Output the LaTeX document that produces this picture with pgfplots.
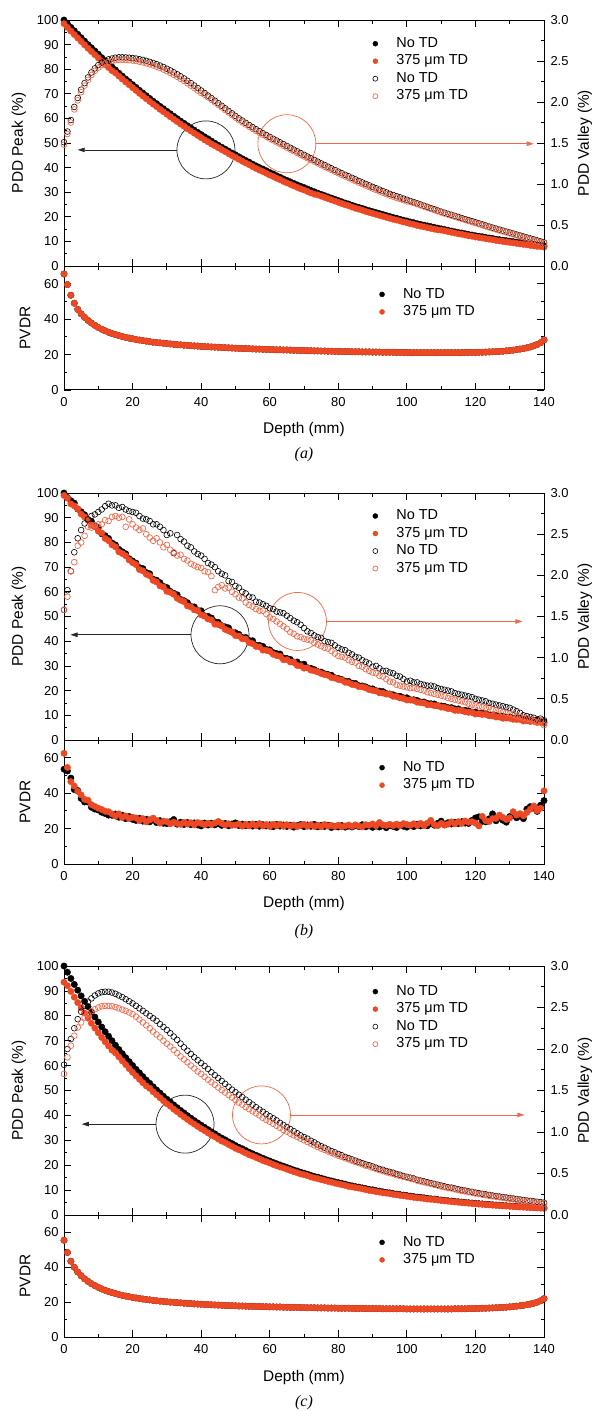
\documentclass[border=0pt]{standalone}
\usepackage{fontspec}
\setmainfont{Liberation Sans}
\newfontfamily\capfont{Liberation Serif}
\usepackage{pgfplots}
\pgfplotsset{compat=1.18}
\usepackage{pgfplotstable}
\usetikzlibrary{arrows.meta}

\definecolor{tdred}{RGB}{236,72,36}
\definecolor{tdring}{RGB}{240,105,75}

% depth (mm), peak PDD (no TD / TD), valley PDD (no TD / TD), PVDR
\pgfplotstableread{
x pN pT vN vT r
0 100.0 98.5 1.51 1.48 65.5
1 98.5 97.0 1.64 1.61 59.5
2 97.0 95.5 1.78 1.75 53.5
3 95.6 94.1 1.94 1.91 49.0
4 94.2 92.7 2.05 2.02 45.5
5 92.8 91.3 2.15 2.12 43.0
6 91.4 89.9 2.23 2.20 41.0
7 90.0 88.5 2.30 2.27 39.3
8 88.7 87.2 2.36 2.33 37.8
9 87.4 85.9 2.41 2.38 36.5
10 86.1 84.6 2.45 2.42 35.3
11 84.7 83.2 2.48 2.45 34.3
12 83.4 81.9 2.50 2.47 33.4
13 82.2 80.7 2.52 2.49 32.6
14 80.9 79.4 2.53 2.50 31.9
15 79.7 78.5 2.54 2.51 31.3
16 78.4 77.2 2.545 2.515 30.7
17 77.2 76.0 2.545 2.515 30.2
18 76.0 74.8 2.543 2.513 29.7
19 74.9 73.7 2.540 2.510 29.3
20 73.7 72.5 2.536 2.506 28.9
21 72.6 71.4 2.530 2.500 28.5
22 71.4 70.2 2.522 2.492 28.2
23 70.3 69.1 2.513 2.483 27.9
24 69.2 68.0 2.502 2.472 27.6
25 68.1 66.9 2.490 2.460 27.3
26 67.0 65.8 2.476 2.446 27.0
27 66.0 64.8 2.461 2.431 26.8
28 64.9 63.7 2.444 2.414 26.6
29 63.9 62.7 2.426 2.396 26.4
30 62.9 61.7 2.406 2.376 26.2
31 61.9 60.7 2.385 2.355 26.0
32 60.9 59.7 2.362 2.332 25.8
33 59.9 58.7 2.338 2.308 25.6
34 58.9 57.7 2.313 2.283 25.5
35 58.0 56.8 2.287 2.257 25.3
36 57.0 55.8 2.259 2.229 25.2
37 56.1 54.9 2.230 2.200 25.0
38 55.2 54.0 2.200 2.170 24.9
39 54.3 53.1 2.170 2.140 24.8
40 53.4 52.2 2.140 2.110 24.6
41 52.5 51.3 2.109 2.089 24.5
42 51.7 50.5 2.078 2.058 24.4
43 50.8 49.6 2.047 2.027 24.3
44 49.9 48.9 2.016 1.996 24.2
45 49.1 48.1 1.985 1.965 24.1
46 48.3 47.3 1.954 1.934 24.0
47 47.5 46.5 1.923 1.903 23.9
48 46.7 45.7 1.892 1.872 23.8
49 45.9 44.9 1.861 1.841 23.7
50 45.2 44.2 1.830 1.810 23.6
51 44.4 43.4 1.801 1.781 23.5
52 43.6 42.6 1.773 1.753 23.4
53 42.9 41.9 1.746 1.726 23.4
54 42.2 41.2 1.719 1.699 23.3
55 41.4 40.4 1.693 1.673 23.2
56 40.7 39.7 1.668 1.648 23.1
57 40.0 39.0 1.644 1.624 23.1
58 39.4 38.4 1.620 1.600 23.0
59 38.7 37.7 1.597 1.577 22.9
60 38.0 37.0 1.574 1.554 22.9
61 37.4 36.4 1.552 1.532 22.8
62 36.7 35.7 1.530 1.510 22.7
63 36.1 35.1 1.508 1.488 22.7
64 35.4 34.4 1.486 1.466 22.6
65 34.8 33.8 1.464 1.444 22.6
66 34.2 33.2 1.442 1.422 22.5
67 33.6 32.6 1.420 1.400 22.4
68 33.0 32.0 1.398 1.378 22.4
69 32.4 31.4 1.377 1.357 22.3
70 31.9 30.9 1.356 1.336 22.3
71 31.3 30.3 1.335 1.315 22.2
72 30.7 29.7 1.314 1.294 22.2
73 30.2 29.2 1.293 1.273 22.1
74 29.6 28.9 1.272 1.252 22.1
75 29.1 28.4 1.251 1.231 22.0
76 28.6 27.9 1.231 1.211 22.0
77 28.1 27.4 1.211 1.191 21.9
78 27.6 26.9 1.191 1.171 21.9
79 27.1 26.4 1.171 1.151 21.8
80 26.6 25.9 1.151 1.131 21.8
81 26.1 25.4 1.132 1.112 21.7
82 25.6 24.9 1.113 1.093 21.7
83 25.2 24.5 1.094 1.074 21.7
84 24.7 24.0 1.075 1.055 21.6
85 24.2 23.5 1.056 1.036 21.6
86 23.8 23.1 1.037 1.017 21.6
87 23.4 22.7 1.019 0.999 21.5
88 22.9 22.2 1.001 0.981 21.5
89 22.5 21.8 0.983 0.963 21.5
90 22.1 21.4 0.965 0.945 21.4
91 21.7 21.0 0.948 0.928 21.4
92 21.3 20.6 0.931 0.911 21.4
93 20.9 20.2 0.914 0.894 21.3
94 20.5 19.8 0.897 0.877 21.3
95 20.1 19.4 0.880 0.860 21.3
96 19.7 19.0 0.866 0.846 21.3
97 19.4 18.7 0.851 0.831 21.2
98 19.0 18.3 0.837 0.817 21.2
99 18.6 17.9 0.822 0.802 21.2
100 18.3 17.6 0.808 0.788 21.2
101 17.9 17.2 0.793 0.783 21.1
102 17.6 16.9 0.779 0.769 21.1
103 17.2 16.5 0.764 0.754 21.1
104 16.9 16.2 0.750 0.740 21.1
105 16.6 15.9 0.735 0.725 21.1
106 16.3 15.6 0.721 0.711 21.1
107 16.0 15.3 0.706 0.696 21.1
108 15.7 15.0 0.692 0.682 21.1
109 15.4 14.7 0.677 0.667 21.1
110 15.1 14.6 0.663 0.653 21.1
111 14.8 14.3 0.650 0.640 21.1
112 14.5 14.0 0.637 0.627 21.1
113 14.2 13.7 0.624 0.614 21.1
114 13.9 13.4 0.611 0.601 21.1
115 13.6 13.1 0.598 0.588 21.1
116 13.4 12.9 0.585 0.575 21.1
117 13.1 12.6 0.572 0.562 21.2
118 12.8 12.3 0.559 0.549 21.2
119 12.6 12.1 0.546 0.536 21.2
120 12.3 11.8 0.533 0.523 21.2
121 12.1 11.6 0.520 0.510 21.3
122 11.9 11.4 0.507 0.497 21.3
123 11.6 11.1 0.494 0.484 21.4
124 11.4 10.9 0.481 0.471 21.5
125 11.2 10.7 0.468 0.458 21.6
126 10.9 10.4 0.456 0.446 21.7
127 10.7 10.2 0.444 0.434 21.8
128 10.5 10.0 0.432 0.422 21.9
129 10.3 9.8 0.420 0.410 22.1
130 10.1 9.6 0.408 0.398 22.3
131 9.9 9.4 0.396 0.386 22.5
132 9.7 9.2 0.384 0.374 22.8
133 9.5 9.0 0.372 0.362 23.1
134 9.3 8.8 0.360 0.350 23.4
135 9.1 8.6 0.348 0.338 23.8
136 8.9 8.4 0.336 0.326 24.3
137 8.7 8.2 0.324 0.314 24.9
138 8.5 8.0 0.312 0.302 25.7
139 8.4 7.9 0.300 0.290 26.7
140 8.2 7.7 0.288 0.278 28.3
}\tabA

\pgfplotstableread{
x pN pT vN vT rN rT
0 100.0 99.0 1.58 1.58 53.5 62.5
1 98.2 97.9 1.82 1.74 52.5 54.5
2 96.9 95.6 2.05 2.05 48.5 46.5
3 95.9 94.8 2.28 2.16 42.0 44.0
4 93.5 93.6 2.45 2.36 41.5 41.0
5 92.4 91.5 2.55 2.40 37.0 39.0
6 91.2 90.3 2.63 2.48 35.0 36.5
7 89.2 89.1 2.68 2.59 35.0 36.0
8 88.5 87.0 2.72 2.58 32.0 33.5
9 86.7 86.3 2.74 2.61 31.0 32.5
10 86.0 84.6 2.77 2.62 30.5 31.5
11 83.5 83.8 2.80 2.62 29.2 30.8
12 82.7 81.6 2.84 2.67 28.5 29.8
13 81.6 80.7 2.87 2.66 27.6 29.5
14 79.8 79.0 2.85 2.71 27.5 28.3
15 79.0 78.2 2.85 2.72 28.2 27.0
16 77.2 76.2 2.82 2.70 26.4 28.3
17 76.2 75.5 2.83 2.71 27.5 26.2
18 75.4 74.6 2.80 2.59 25.6 27.1
19 73.4 72.9 2.78 2.68 26.8 25.7
20 72.5 71.8 2.77 2.62 25.2 26.4
21 71.6 71.0 2.76 2.58 24.6 26.0
22 69.8 69.0 2.72 2.55 25.8 24.5
23 69.4 68.5 2.69 2.57 24.2 25.6
24 67.8 67.1 2.68 2.50 25.3 23.8
25 67.3 66.5 2.66 2.46 23.8 24.9
26 65.1 64.6 2.62 2.42 24.9 25.9
27 64.7 64.0 2.62 2.45 23.4 24.6
28 63.7 62.4 2.59 2.40 24.5 23.1
29 62.2 61.9 2.55 2.34 23.0 24.2
30 61.7 60.2 2.49 2.37 22.8 23.9
31 60.2 59.8 2.51 2.31 23.9 22.7
32 59.4 59.0 2.27 2.28 25.1 23.6
33 58.8 57.4 2.49 2.24 22.5 23.0
34 56.9 56.6 2.44 2.25 23.6 22.4
35 56.4 56.0 2.41 2.20 22.3 23.5
36 55.6 54.3 2.36 2.18 23.4 22.6
37 54.1 53.9 2.34 2.14 22.2 23.3
38 53.9 52.7 2.29 2.12 23.2 22.1
39 52.5 52.4 2.26 2.10 22.0 23.4
40 52.3 50.7 2.24 2.09 21.5 22.9
41 50.3 50.2 2.20 2.05 23.1 22.2
42 50.1 49.0 2.15 2.04 22.0 23.0
43 49.4 48.6 2.13 1.99 23.0 22.4
44 47.9 46.9 2.10 1.82 22.1 23.1
45 47.6 46.7 2.05 1.86 22.8 24.0
46 46.3 46.2 2.02 1.88 21.8 22.9
47 45.8 44.8 2.00 1.84 22.9 22.0
48 45.4 44.2 1.93 1.85 21.6 22.7
49 43.7 43.7 1.92 1.80 22.6 21.9
50 43.4 42.3 1.87 1.77 23.2 22.0
51 42.8 42.1 1.85 1.73 21.7 22.6
52 41.5 41.0 1.80 1.72 22.5 21.4
53 41.5 40.9 1.78 1.67 21.6 22.4
54 40.3 39.4 1.74 1.64 22.3 21.5
55 40.2 39.0 1.73 1.62 21.4 22.6
56 38.4 37.9 1.68 1.59 22.4 21.6
57 38.3 37.7 1.67 1.57 21.3 22.8
58 37.9 36.4 1.65 1.57 22.2 21.5
59 36.7 36.3 1.63 1.53 21.5 22.3
60 36.5 35.9 1.60 1.49 22.1 21.2
61 35.4 34.7 1.59 1.47 21.0 22.4
62 35.0 34.2 1.56 1.44 22.3 21.6
63 34.8 33.9 1.55 1.41 21.4 22.5
64 33.2 32.5 1.54 1.38 22.0 21.3
65 33.0 32.5 1.51 1.35 21.2 22.2
66 32.6 31.6 1.48 1.31 21.9 21.4
67 31.5 31.6 1.45 1.29 20.8 22.0
68 31.6 30.2 1.43 1.26 21.6 21.1
69 30.5 30.0 1.40 1.25 22.3 21.8
70 30.7 29.1 1.36 1.23 21.1 22.4
71 29.3 29.2 1.32 1.22 22.0 21.3
72 29.0 28.3 1.30 1.21 21.3 22.2
73 28.5 28.0 1.27 1.18 22.4 21.2
74 27.7 27.6 1.25 1.16 21.0 21.9
75 27.5 26.9 1.24 1.14 21.8 21.1
76 26.8 26.5 1.20 1.12 21.2 22.3
77 26.5 26.2 1.19 1.11 21.9 21.4
78 26.2 25.3 1.18 1.08 20.6 21.8
79 25.2 25.1 1.15 1.05 21.3 21.2
80 24.9 24.5 1.12 1.02 20.9 21.9
81 24.5 24.3 1.10 1.01 21.7 21.0
82 23.8 23.4 1.09 1.00 20.8 21.5
83 23.7 23.2 1.06 0.97 21.4 22.0
84 23.0 22.5 1.04 0.95 20.9 21.3
85 22.9 22.3 1.01 0.94 21.6 22.1
86 22.0 21.6 1.00 0.90 21.1 21.4
87 21.9 21.5 0.97 0.89 22.2 21.0
88 21.5 21.1 0.95 0.86 21.0 22.2
89 20.8 20.4 0.93 0.84 21.5 21.9
90 20.7 20.1 0.89 0.82 20.7 22.6
91 20.0 19.9 0.90 0.81 21.4 21.6
92 19.8 19.1 0.87 0.78 20.9 23.4
93 19.6 19.0 0.84 0.77 21.6 22.1
94 18.8 18.6 0.84 0.74 20.5 21.8
95 18.6 18.5 0.82 0.71 21.7 22.4
96 18.3 17.7 0.81 0.70 21.2 21.7
97 17.8 17.6 0.78 0.67 20.6 22.5
98 17.7 17.0 0.77 0.66 21.9 21.6
99 17.1 16.8 0.74 0.65 21.3 22.8
100 17.1 16.2 0.71 0.64 20.8 22.3
101 16.3 16.2 0.72 0.63 21.8 21.9
102 16.3 16.0 0.70 0.63 21.1 22.7
103 16.0 15.3 0.70 0.62 22.4 21.8
104 15.4 15.1 0.68 0.61 21.5 22.9
105 15.4 15.0 0.67 0.60 22.0 21.7
106 14.8 14.3 0.66 0.58 21.6 23.1
107 14.7 14.3 0.66 0.57 22.8 24.6
108 14.6 13.9 0.65 0.56 21.9 22.3
109 13.9 14.0 0.63 0.55 23.0 21.6
110 13.8 13.3 0.62 0.54 24.2 22.9
111 13.6 13.2 0.61 0.53 22.1 22.0
112 13.1 12.7 0.60 0.51 23.3 22.5
113 13.1 12.6 0.59 0.50 22.6 23.8
114 12.6 12.0 0.57 0.49 23.5 22.7
115 12.6 12.0 0.56 0.48 22.8 23.9
116 12.0 12.0 0.55 0.47 23.9 22.9
117 12.0 11.4 0.54 0.46 23.1 24.3
118 11.8 11.2 0.53 0.44 22.9 23.6
119 11.3 11.2 0.52 0.43 24.6 23.9
120 11.3 10.5 0.50 0.42 26.0 23.1
121 10.8 10.6 0.49 0.41 26.6 21.5
122 10.8 10.3 0.48 0.40 24.1 26.9
123 10.8 10.4 0.47 0.39 23.8 24.5
124 10.1 9.8 0.45 0.40 25.5 24.0
125 10.1 9.8 0.44 0.37 28.3 25.6
126 9.9 9.3 0.43 0.36 24.4 25.8
127 9.5 9.3 0.42 0.36 25.9 27.6
128 9.6 8.8 0.41 0.34 24.7 26.3
129 9.2 8.9 0.40 0.33 23.6 25.1
130 9.3 8.8 0.39 0.32 26.8 26.0
131 8.7 8.4 0.37 0.31 27.4 29.5
132 8.8 8.3 0.35 0.29 26.1 27.6
133 8.7 8.3 0.33 0.28 27.0 28.4
134 8.2 7.7 0.30 0.27 25.6 27.2
135 8.3 7.8 0.29 0.26 31.0 29.1
136 7.8 7.5 0.28 0.25 32.4 30.9
137 7.8 7.6 0.27 0.23 31.6 32.8
138 7.9 7.1 0.25 0.22 29.7 30.1
139 7.3 7.2 0.26 0.24 33.2 31.5
140 7.3 6.8 0.24 0.18 35.8 41.3
}\tabB

\pgfplotstableread{
x pN pT vN vT r
0 100.0 93.5 1.81 1.70 55.5
1 97.5 92.1 2.00 1.90 48.5
2 95.0 89.8 2.12 2.04 43.5
3 92.6 87.5 2.25 2.16 40.0
4 90.3 85.3 2.36 2.26 37.3
5 88.0 83.2 2.45 2.32 35.2
6 85.8 81.1 2.52 2.38 33.4
7 83.7 79.1 2.57 2.42 31.9
8 81.5 77.0 2.61 2.455 30.6
9 79.5 75.1 2.645 2.48 29.5
10 77.5 73.2 2.67 2.50 28.5
11 75.5 71.3 2.685 2.515 27.6
12 73.6 69.6 2.69 2.52 26.8
13 71.8 67.9 2.69 2.52 26.1
14 70.0 66.2 2.68 2.515 25.5
15 68.2 65.1 2.665 2.505 24.9
16 66.5 63.5 2.645 2.49 24.4
17 64.8 61.9 2.625 2.475 23.9
18 63.2 60.4 2.60 2.46 23.5
19 61.6 58.8 2.575 2.44 23.1
20 60.05 57.3 2.55 2.42 22.7
21 58.5 55.9 2.52 2.39 22.4
22 57.1 54.5 2.49 2.355 22.1
23 55.6 53.1 2.46 2.32 21.8
24 54.2 51.8 2.43 2.285 21.5
25 52.9 50.9 2.40 2.25 21.3
26 51.5 49.5 2.37 2.21 21.0
27 50.2 48.3 2.34 2.175 20.8
28 49.0 47.1 2.30 2.14 20.6
29 47.7 45.9 2.265 2.10 20.4
30 46.5 44.7 2.23 2.065 20.2
31 45.4 43.7 2.19 2.03 20.0
32 44.2 42.5 2.15 1.99 19.9
33 43.1 41.5 2.11 1.95 19.7
34 42.0 40.4 2.065 1.91 19.6
35 41.0 39.4 2.02 1.875 19.4
36 39.9 38.4 1.98 1.84 19.3
37 38.9 37.4 1.94 1.80 19.2
38 37.9 36.5 1.90 1.765 19.0
39 37.0 35.6 1.865 1.73 18.9
40 36.1 34.7 1.83 1.70 18.8
41 35.2 33.9 1.795 1.665 18.7
42 34.3 33.0 1.76 1.63 18.6
43 33.4 32.1 1.72 1.60 18.5
44 32.6 31.4 1.685 1.57 18.4
45 31.7 30.5 1.65 1.535 18.3
46 30.9 29.7 1.615 1.505 18.2
47 30.2 29.1 1.58 1.475 18.1
48 29.4 28.3 1.545 1.445 18.0
49 28.7 27.6 1.51 1.415 18.0
50 27.9 26.8 1.48 1.385 17.9
51 27.2 26.2 1.45 1.355 17.8
52 26.6 25.6 1.42 1.33 17.8
53 25.9 24.9 1.39 1.30 17.7
54 25.2 24.2 1.36 1.275 17.6
55 24.6 23.7 1.33 1.25 17.6
56 24.0 23.1 1.30 1.225 17.5
57 23.4 22.5 1.27 1.20 17.5
58 22.8 21.9 1.245 1.17 17.4
59 22.2 21.4 1.215 1.145 17.4
60 21.7 20.9 1.19 1.125 17.3
61 21.1 20.3 1.165 1.10 17.3
62 20.6 19.8 1.14 1.075 17.2
63 20.1 19.3 1.11 1.05 17.2
64 19.6 18.9 1.085 1.025 17.1
65 19.1 18.4 1.06 1.005 17.1
66 18.6 17.9 1.035 0.98 17.0
67 18.1 17.4 1.01 0.96 17.0
68 17.7 17.0 0.985 0.94 17.0
69 17.2 16.5 0.96 0.92 16.9
70 16.8 16.2 0.94 0.90 16.9
71 16.4 15.8 0.92 0.88 16.8
72 15.9 15.3 0.895 0.86 16.8
73 15.5 14.9 0.875 0.84 16.8
74 15.2 14.6 0.85 0.82 16.7
75 14.8 14.2 0.83 0.80 16.7
76 14.4 13.9 0.81 0.785 16.7
77 14.0 13.5 0.79 0.765 16.6
78 13.7 13.2 0.77 0.75 16.6
79 13.3 12.8 0.755 0.73 16.6
80 13.0 12.5 0.735 0.715 16.5
81 12.7 12.2 0.72 0.70 16.5
82 12.4 11.9 0.70 0.685 16.5
83 12.0 11.5 0.685 0.67 16.5
84 11.7 11.3 0.67 0.655 16.4
85 11.4 11.0 0.655 0.64 16.4
86 11.2 10.8 0.64 0.625 16.4
87 10.9 10.5 0.625 0.61 16.4
88 10.6 10.2 0.61 0.595 16.3
89 10.3 9.9 0.60 0.585 16.3
90 10.1 9.7 0.585 0.57 16.3
91 9.8 9.4 0.57 0.555 16.3
92 9.6 9.2 0.555 0.54 16.3
93 9.3 8.9 0.545 0.53 16.2
94 9.1 8.8 0.53 0.515 16.2
95 8.9 8.6 0.52 0.505 16.2
96 8.6 8.3 0.51 0.495 16.2
97 8.4 8.1 0.495 0.48 16.2
98 8.2 7.9 0.485 0.47 16.2
99 8.0 7.7 0.47 0.46 16.2
100 7.8 7.5 0.46 0.45 16.1
101 7.6 7.3 0.45 0.44 16.1
102 7.4 7.1 0.44 0.43 16.1
103 7.2 6.9 0.425 0.415 16.1
104 7.1 6.8 0.415 0.405 16.1
105 6.9 6.6 0.405 0.395 16.1
106 6.7 6.4 0.395 0.385 16.1
107 6.5 6.3 0.385 0.375 16.1
108 6.4 6.2 0.375 0.365 16.1
109 6.2 6.0 0.365 0.355 16.1
110 6.05 5.82 0.355 0.345 16.1
111 5.90 5.68 0.345 0.335 16.1
112 5.75 5.53 0.335 0.325 16.1
113 5.60 5.39 0.33 0.32 16.1
114 5.46 5.25 0.32 0.31 16.2
115 5.33 5.13 0.31 0.30 16.2
116 5.19 4.99 0.30 0.29 16.2
117 5.06 4.87 0.295 0.285 16.2
118 4.93 4.74 0.285 0.275 16.3
119 4.81 4.63 0.28 0.27 16.3
120 4.69 4.51 0.27 0.26 16.4
121 4.57 4.40 0.263 0.253 16.4
122 4.46 4.29 0.256 0.246 16.5
123 4.34 4.18 0.249 0.239 16.5
124 4.24 4.08 0.242 0.232 16.6
125 4.13 3.97 0.235 0.225 16.7
126 4.02 3.87 0.229 0.219 16.8
127 3.92 3.77 0.223 0.213 16.9
128 3.82 3.67 0.217 0.207 17.0
129 3.73 3.59 0.211 0.201 17.1
130 3.63 3.49 0.205 0.195 17.3
131 3.54 3.41 0.199 0.189 17.5
132 3.45 3.32 0.193 0.183 17.7
133 3.36 3.23 0.187 0.177 17.9
134 3.28 3.16 0.181 0.171 18.2
135 3.20 3.08 0.175 0.165 18.5
136 3.12 3.00 0.170 0.160 18.9
137 3.04 2.92 0.165 0.155 19.4
138 2.96 2.85 0.160 0.150 20.0
139 2.89 2.78 0.155 0.145 20.8
140 2.82 2.71 0.150 0.140 22.0
}\tabC

\tikzset{
  callout/.style={line width=0.7bp},
  tip/.style={-{Triangle[length=7bp,width=4.5bp]}},
}

\newcommand\labelfont{\fontsize{15.5}{18}\selectfont}

\pgfplotsset{
  frame/.style={
    scale only axis, width=480bp, xmin=0, xmax=140,
    xtick={0,20,...,140}, minor x tick num=1,
    tick align=inside, major tick length=7bp, minor tick length=3.5bp,
    axis line style={line width=1bp},
    every tick/.style={black, line width=0.8bp},
    tick label style={font=\fontsize{13}{15}\selectfont},
    /pgf/number format/assume math mode=true,
    legend cell align=left,
    legend image code/.code={\draw[#1, mark size=2.5bp] plot coordinates {(0bp,0bp)};},
    legend style={draw=none, fill=none, inner sep=0pt, anchor=north west,
      font=\fontsize{14.5}{17}\selectfont, row sep=1bp,
      nodes={inner sep=1.5bp, text height=10.5bp, text depth=3bp},
      /tikz/every odd column/.append style={column sep=17bp}},
  },
  peakaxis/.style={frame,
    ymin=0, ymax=100, ytick={0,10,...,100}, minor y tick num=1,
    ytick pos=left, xticklabels={},
    yticklabel style={xshift=-2bp},
    ylabel={PDD Peak (\%)},
    every axis y label/.style={at={(axis description cs:-0.094,0.5)}, rotate=90, anchor=center, font=\labelfont},
  },
  valleyaxis/.style={frame,
    ymin=0, ymax=3, ytick={0,0.5,...,3}, minor y tick num=1,
    axis x line=none, axis y line*=right,
    yticklabel style={xshift=3bp, /pgf/number format/.cd, fixed, fixed zerofill, precision=1},
    ylabel={PDD Valley (\%)},
    every axis y label/.style={at={(axis description cs:1.085,0.5)}, rotate=90, anchor=center, font=\labelfont},
  },
  pvdraxis/.style={frame,
    ymin=0, ymax=70, ytick={0,20,40,60}, minor y tick num=1,
    yticklabel style={xshift=-2bp}, xticklabel style={yshift=-4bp},
    ylabel={PVDR}, xlabel={Depth (mm)},
    every axis y label/.style={at={(axis description cs:-0.081,0.5)}, rotate=90, anchor=center, font=\labelfont},
    every axis x label/.style={at={(axis description cs:0.5,0)}, anchor=center, yshift=-40bp, font=\labelfont},
  },
  peakN/.style={only marks, mark=*, mark size=3.2bp, black},
  peakT/.style={only marks, mark=*, mark size=3.2bp, tdred},
  valN/.style={only marks, mark=o, mark size=2.9bp, black, mark options={line width=0.6bp}},
  valT/.style={only marks, mark=o, mark size=2.9bp, tdring, mark options={line width=0.7bp}},
}

\begin{document}
\begin{tikzpicture}
\path[use as bounding box] (0bp,0bp) rectangle (594bp,-1411bp);

% ---------------- (a) ----------------
\begin{axis}[peakaxis, at={(64bp,-266bp)}, anchor=south west, height=246bp]
  \addplot[peakN] table[x=x, y=pN] {\tabA};
  \addplot[peakT] table[x=x, y=pT] {\tabA};
  \draw[callout, black!85] (axis cs:41.4,47.2) circle[radius=29bp];
  \draw[callout, black!85, tip] ([xshift=-29bp]axis cs:41.4,47.2) -- (axis cs:4,47.2);
  \draw[callout, tdring] (axis cs:65,49.7) circle[radius=29bp];
  \draw[callout, tdring, tip] ([xshift=29bp]axis cs:65,49.7) -- (axis cs:137,49.7);
\end{axis}
\begin{axis}[valleyaxis, at={(64bp,-266bp)}, anchor=south west, height=246bp,
    legend style={at={(0.643,0.938)}}]
  \addlegendimage{peakN}\addlegendentry{No TD}
  \addlegendimage{peakT}\addlegendentry{375 μm TD}
  \addplot[valN] table[x=x, y=vN] {\tabA}; \addlegendentry{No TD}
  \addplot[valT] table[x=x, y=vT] {\tabA}; \addlegendentry{375 μm TD}
\end{axis}
\begin{axis}[pvdraxis, at={(64bp,-266bp)}, anchor=north west, height=124bp,
    legend style={at={(0.657,0.839)}}]
  \addplot[peakN] table[x=x, y=r] {\tabA}; \addlegendentry{No TD}
  \addplot[peakT] table[x=x, y=r] {\tabA}; \addlegendentry{375 μm TD}
\end{axis}
\node[font=\capfont\itshape\fontsize{16}{18}\selectfont] at (304bp,-455bp) {(a)};

% ---------------- (b) ----------------
\begin{axis}[peakaxis, at={(64bp,-740bp)}, anchor=south west, height=247bp]
  \addplot[peakN] table[x=x, y=pN] {\tabB};
  \addplot[peakT] table[x=x, y=pT] {\tabB};
  \draw[callout, black!85] (axis cs:45.5,42.6) circle[radius=29bp];
  \draw[callout, black!85, tip] ([xshift=-29bp]axis cs:45.5,42.6) -- (axis cs:1.9,42.6);
  \draw[callout, tdring] (axis cs:68.1,48.0) circle[radius=29bp];
  \draw[callout, tdring, tip] ([xshift=29bp]axis cs:68.1,48.0) -- (axis cs:133.7,48.0);
\end{axis}
\begin{axis}[valleyaxis, at={(64bp,-740bp)}, anchor=south west, height=247bp,
    legend style={at={(0.643,0.941)}}]
  \addlegendimage{peakN}\addlegendentry{No TD}
  \addlegendimage{peakT}\addlegendentry{375 μm TD}
  \addplot[valN] table[x=x, y=vN] {\tabB}; \addlegendentry{No TD}
  \addplot[valT] table[x=x, y=vT] {\tabB}; \addlegendentry{375 μm TD}
\end{axis}
\begin{axis}[pvdraxis, at={(64bp,-740bp)}, anchor=north west, height=124bp,
    legend style={at={(0.657,0.845)}}]
  \addplot[peakN] table[x=x, y=rN] {\tabB}; \addlegendentry{No TD}
  \addplot[peakT] table[x=x, y=rT] {\tabB}; \addlegendentry{375 μm TD}
\end{axis}
\node[font=\capfont\itshape\fontsize{16}{18}\selectfont] at (304bp,-932bp) {(b)};

% ---------------- (c) ----------------
\begin{axis}[peakaxis, at={(64bp,-1215bp)}, anchor=south west, height=249bp]
  \addplot[peakN] table[x=x, y=pN] {\tabC};
  \addplot[peakT] table[x=x, y=pT] {\tabC};
  \draw[callout, black!85] (axis cs:35.3,36.5) circle[radius=29bp];
  \draw[callout, black!85, tip] ([xshift=-29bp]axis cs:35.3,36.5) -- (axis cs:5.2,36.5);
  \draw[callout, tdring] (axis cs:57.6,40.2) circle[radius=29bp];
  \draw[callout, tdring, tip] ([xshift=29bp]axis cs:57.6,40.2) -- (axis cs:134.3,40.2);
\end{axis}
\begin{axis}[valleyaxis, at={(64bp,-1215bp)}, anchor=south west, height=249bp,
    legend style={at={(0.643,0.931)}}]
  \addlegendimage{peakN}\addlegendentry{No TD}
  \addlegendimage{peakT}\addlegendentry{375 μm TD}
  \addplot[valN] table[x=x, y=vN] {\tabC}; \addlegendentry{No TD}
  \addplot[valT] table[x=x, y=vT] {\tabC}; \addlegendentry{375 μm TD}
\end{axis}
\begin{axis}[pvdraxis, at={(64bp,-1215bp)}, anchor=north west, height=122bp,
    legend style={at={(0.657,0.845)}}]
  \addplot[peakN] table[x=x, y=r] {\tabC}; \addlegendentry{No TD}
  \addplot[peakT] table[x=x, y=r] {\tabC}; \addlegendentry{375 μm TD}
\end{axis}
\node[font=\capfont\itshape\fontsize{16}{18}\selectfont] at (304bp,-1403bp) {(c)};
\end{tikzpicture}
\end{document}
